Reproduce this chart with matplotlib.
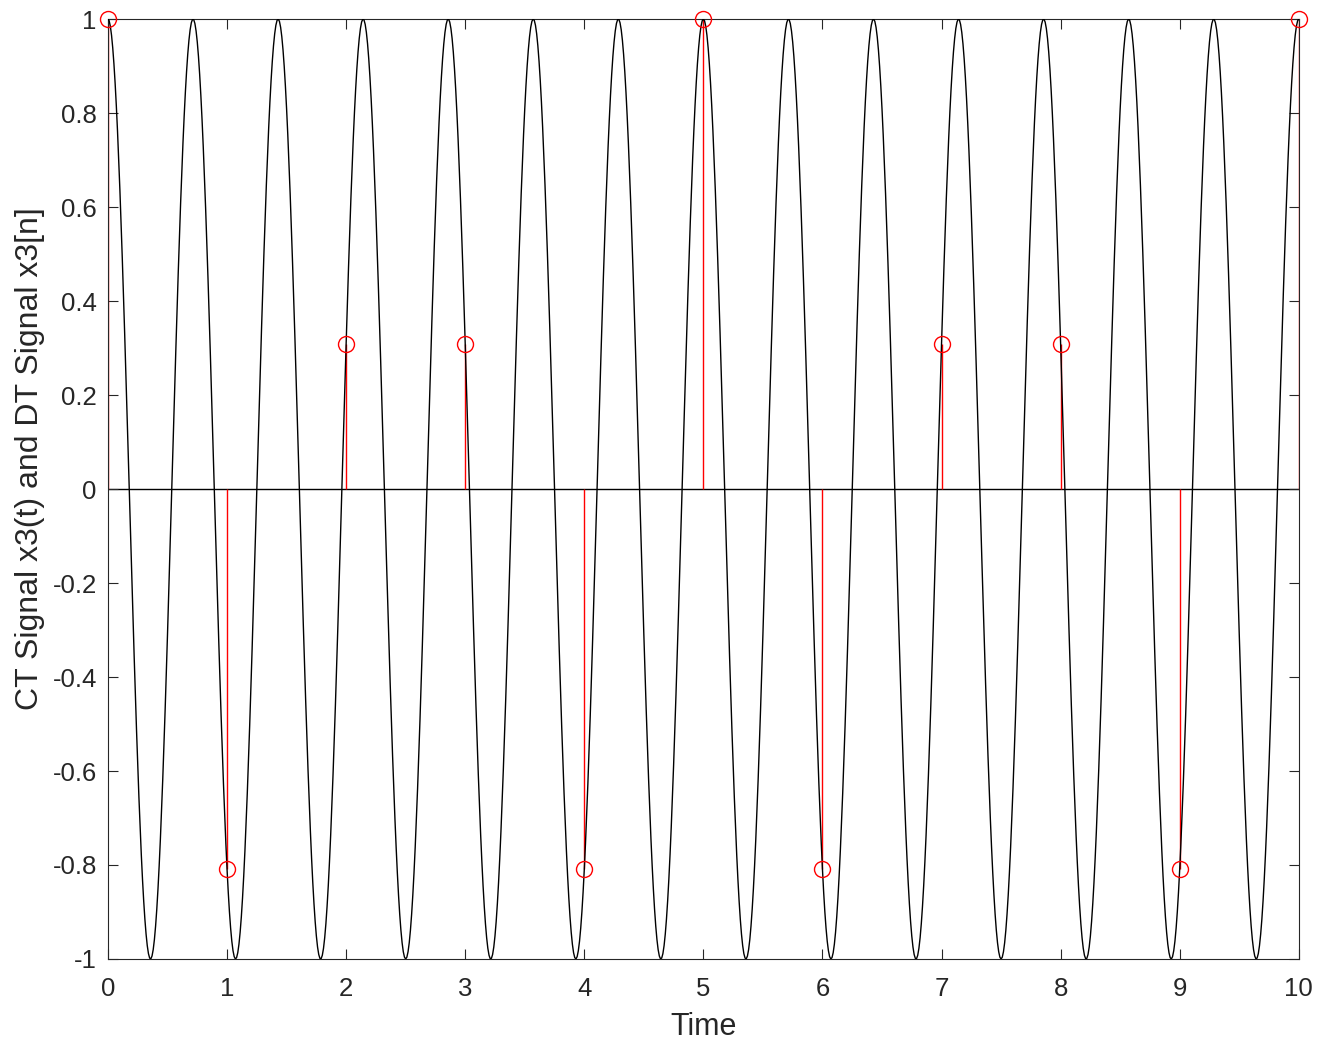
import matplotlib
matplotlib.use('Agg')
import matplotlib.pyplot as plt
import numpy as np

plt.rcParams['font.family'] = ['Liberation Sans', 'DejaVu Sans']

# sample instants and DT values
n = [0, 1, 2, 3, 4, 5, 6, 7, 8, 9, 10]
x3_n = [1, -0.809, 0.309, 0.309, -0.809, 1, -0.809, 0.309, 0.309, -0.809, 1]

# CT signal: cosine with peaks every ~0.714 s (1.4 Hz read from the peaks)
f_ct = 1.4
t = np.arange(0, 10.0001, 0.01)
x3_t = np.cos(2 * np.pi * f_ct * t)

xticks = [0, 1, 2, 3, 4, 5, 6, 7, 8, 9, 10]
yticks = [-1, -0.8, -0.6, -0.4, -0.2, 0, 0.2, 0.4, 0.6, 0.8, 1]

fig = plt.figure(figsize=(13.28, 10.45), dpi=100)
ax = fig.add_axes([0.0813, 0.0823, 0.8967, 0.8995])

ax.plot([0, 10], [0, 0], color='black', linewidth=1, zorder=1)
ax.vlines(n, 0, x3_n, color='red', linewidth=1, zorder=2)
ax.plot(n, x3_n, linestyle='none', marker='o', markersize=11.5,
        markerfacecolor='none', markeredgecolor='red', markeredgewidth=1, zorder=4,
        clip_on=False)
ax.plot(t, x3_t, color='black', linewidth=1, zorder=3)

ax.set_xlim(0, 10)
ax.set_ylim(-1, 1)
ax.set_xticks(xticks)
ax.set_xticklabels([str(v) for v in xticks])
ax.set_yticks(yticks)
ax.set_yticklabels(['{:g}'.format(v) for v in yticks])
ax.tick_params(direction='in', length=7, width=0.8, top=True, right=True,
               labelsize=18.5, colors='#262626')
ax.tick_params(axis='x', pad=13)
ax.tick_params(axis='y', pad=8)
for s in ax.spines.values():
    s.set_color('#262626')
    s.set_linewidth(0.8)

ax.set_xlabel('Time', fontsize=22, color='#262626', labelpad=8)
ax.set_ylabel('CT Signal x3(t) and DT Signal x3[n]', fontsize=23, color='#262626')
ax.yaxis.set_label_coords(-0.053, 0.532)

fig.savefig('out.png', dpi=100)
